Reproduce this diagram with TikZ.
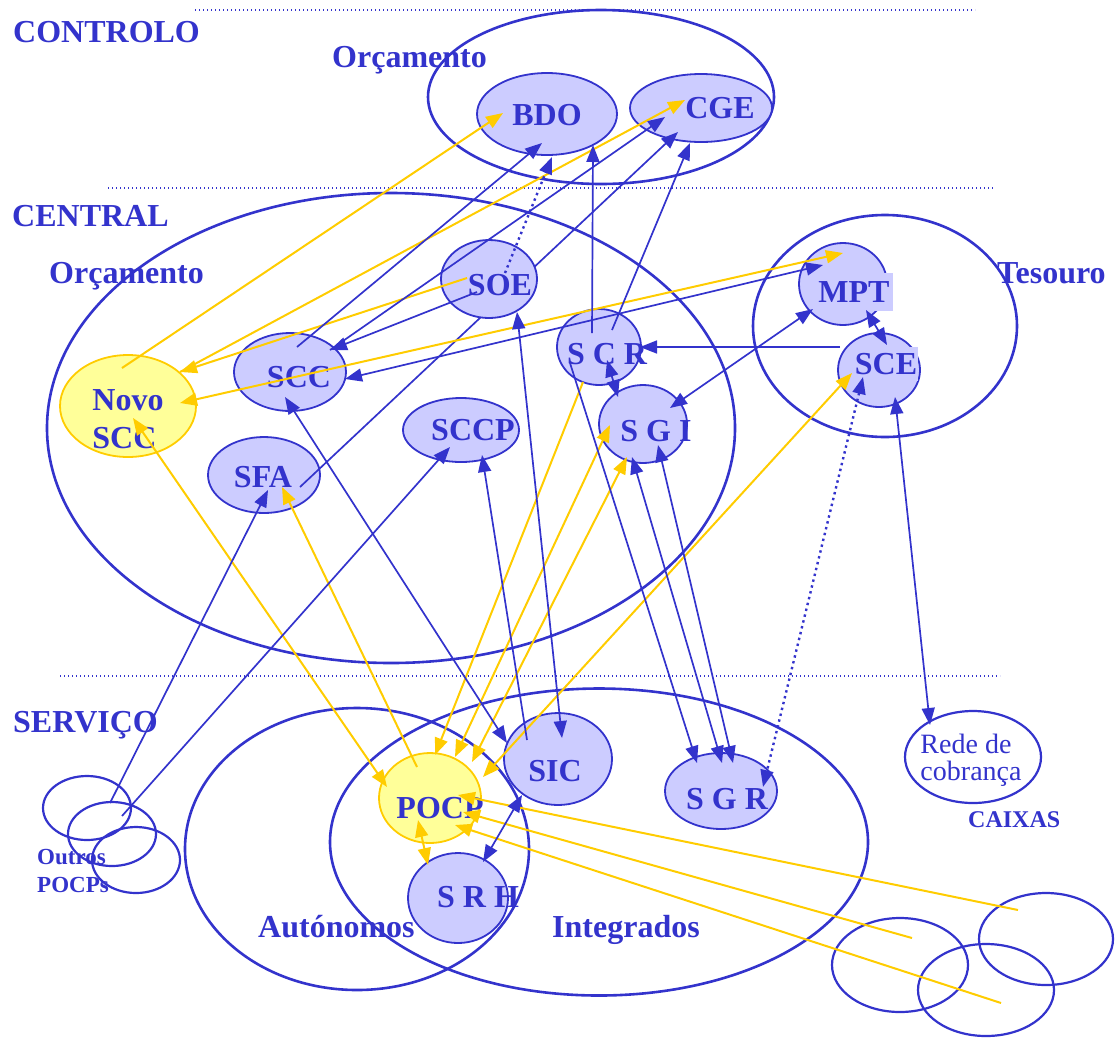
\documentclass[tikz,border=0pt]{standalone}
\usepackage{fontspec}
\setmainfont{Liberation Serif}
\usepackage{xcolor}
\usetikzlibrary{shapes.geometric,arrows.meta,calc}
\definecolor{ablue}{HTML}{3333CC}
\definecolor{sysfill}{HTML}{CCCCFF}
\definecolor{newfill}{HTML}{FFFF99}
\definecolor{gold}{HTML}{FFCC00}

\begin{document}
\begin{tikzpicture}[x=1pt, y=-1pt,
    >={Triangle[length=17pt,width=13pt]},
    sysnode/.style={ellipse, draw=ablue, line width=1.8pt, fill=sysfill, inner sep=0pt},
    newnode/.style={ellipse, draw=gold, line width=1.8pt, fill=newfill, inner sep=0pt},
    zoneellipse/.style={ellipse, draw=ablue, line width=2.6pt, inner sep=0pt},
    outernode/.style={ellipse, draw=ablue, line width=2.2pt, inner sep=0pt},
    systext/.style={text=ablue, inner sep=0pt, font=\fontsize{32}{34}\selectfont\bfseries},
    zonetext/.style={text=ablue, inner sep=0pt, anchor=base west, font=\fontsize{32}{34}\selectfont\bfseries},
    divider/.style={ablue, line width=1.4pt, dash pattern=on 1.4pt off 2.6pt},
    flow/.style={ablue, line width=1.7pt},
    newflow/.style={gold, line width=2pt},
    dotflow/.style={ablue, line width=2.4pt, dash pattern=on 2.4pt off 3.6pt}]
    \useasboundingbox (0,0) rectangle (1115,1037);

    % Levels
    \draw[divider] (195,10) -- (975,10);
    \draw[divider] (108,188) -- (995,188);
    \draw[divider] (60,676) -- (1000,676);
    \node (controlo) [zonetext] at (13,42) {CONTROLO};
    \node (orc-top) [zonetext] at (332,67) {Orçamento};
    \node (central) [zonetext] at (12,226) {CENTRAL};
    \node (orc-central) [zonetext] at (49,283) {Orçamento};
    \node (tesouro) [zonetext] at (997,283) {Tesouro};
    \node (servico) [zonetext] at (13,732) {SERVIÇO};
    \node (autonomos) [zonetext] at (258,937) {Autónomos};
    \node (integrados) [zonetext] at (552,937) {Integrados};
    \node (caixas) [zonetext, font=\fontsize{24}{26}\selectfont\bfseries] at (968,827) {CAIXAS};
    \node (outros) [text=ablue, align=left, inner sep=0pt, font=\fontsize{23}{28}\selectfont\bfseries] at (73,871) {Outros\\POCPs};

    % Zones
    \node (z-controlo) [zoneellipse, minimum width=346, minimum height=174] at (601,97) {};
    \node (z-central) [zoneellipse, minimum width=688, minimum height=470] at (391,428) {};
    \node (z-tesouro) [zoneellipse, minimum width=264, minimum height=222] at (885,326) {};
    \node (z-auto) [zoneellipse, minimum width=344, minimum height=282] at (357,849) {};
    \node (z-integ) [zoneellipse, minimum width=538, minimum height=307] at (599,842) {};

    % Outer systems
    \node (o1) [outernode, minimum width=88, minimum height=64] at (87,808) {};
    \node (o2) [outernode, minimum width=88, minimum height=64] at (112,834) {};
    \node (o3) [outernode, minimum width=88, minimum height=66] at (136,860) {};
    \node (c1) [outernode, minimum width=136, minimum height=94] at (900,965) {};
    \node (c2) [outernode, minimum width=136, minimum height=92] at (986,990) {};
    \node (c3) [outernode, minimum width=134, minimum height=92] at (1046,939) {};
    \node (rede) [outernode, minimum width=136, minimum height=92] at (973,757) {};
    \node (rede-t) [text=ablue, align=left, inner sep=0pt, font=\fontsize{28}{27}\selectfont] at (971,760) {Rede de\\cobrança};

    % Systems
    \node (bdo) [sysnode, minimum width=140, minimum height=82] at (547,114) {};
    \node (cge) [sysnode, minimum width=142, minimum height=68] at (701,108) {};
    \node (scc) [sysnode, minimum width=112, minimum height=78] at (290,372) {};
    \node (scr) [sysnode, minimum width=84, minimum height=76] at (599,347) {};
    \node (sgi) [sysnode, minimum width=88, minimum height=78] at (643,424) {};
    \node (sccp) [sysnode, minimum width=116, minimum height=64] at (461,430) {};
    \node (sfa) [sysnode, minimum width=112, minimum height=76] at (264,475) {};
    \node (mpt) [sysnode, minimum width=88, minimum height=82] at (843,284) {};
    \node (sce) [sysnode, minimum width=82, minimum height=74] at (879,370) {};
    \node (sic) [sysnode, minimum width=108, minimum height=92] at (558,759) {};
    \node (srh) [sysnode, minimum width=100, minimum height=90] at (458,898) {};
    \node (sgr) [sysnode, minimum width=112, minimum height=76] at (721,791) {};
    \node (novo) [newnode, minimum width=136, minimum height=102] at (128,406) {};
    \node (pocp) [newnode, minimum width=102, minimum height=90] at (430,798) {};
    % this one runs under SOE
    \draw[flow, ->] ($(sfa)+(36,12)$) -- ($(cge)+(-23,24)$);
    \node (soe) [sysnode, minimum width=96, minimum height=78] at (489,279) {};

    % Labels
    \node (bdo-t) [systext] at (547,115) {BDO};
    \node (cge-t) [systext] at (720,108) {CGE};
    \node (soe-t) [systext] at (500,285) {SOE};
    \node (scc-t) [systext] at (299,377) {SCC};
    \node (scr-t) [systext] at (607,354) {S C R};
    \node (sgi-t) [systext] at (656,431) {S G I};
    \node (sccp-t) [systext] at (473,430) {SCCP};
    \node (sfa-t) [systext] at (263,477) {SFA};
    \node (mpt-t) [systext, fill=sysfill, inner xsep=3pt, inner ysep=9pt] at (854,292) {MPT};
    \node (sce-t) [systext, fill=sysfill, inner xsep=1pt, inner ysep=6pt] at (886,364) {SCE};
    \node (sic-t) [systext] at (555,771) {SIC};
    \node (sgr-t) [systext] at (727,799) {S G R};
    \node (srh-t) [systext] at (478,897) {S R H};
    \node (pocp-t) [systext] at (440,808) {POCP};
    \node (novo-t) [systext, align=left, font=\fontsize{32}{38}\selectfont\bfseries] at (128,419) {Novo\\SCC};

    % Yellow arrows
    \draw[newflow, ->] ($(novo)+(-6,-38)$) -- ($(bdo)+(-44,-1)$);
    \draw[newflow, ->] ($(soe)+(-22,-1)$) -- ($(novo)+(52,-34)$);
    \draw[newflow, ->] ($(novo)+(52,-34)$) -- ($(cge)+(-16,-8)$);
    \draw[newflow, <->] ($(novo)+(52,-3)$) -- ($(mpt)+(0,-31)$);
    \draw[newflow, <->] ($(novo)+(5,12)$) -- ($(pocp)+(-43,-11)$);
    \draw[newflow, ->] ($(pocp)+(-13,-31)$) -- ($(sfa)+(18,12)$);
    \draw[newflow, ->] ($(scr)+(-16,35)$) -- ($(pocp)+(5,-43)$);
    \draw[newflow, <->] ($(sgi)+(-33,1)$) -- ($(pocp)+(25,-41)$);
    \draw[newflow, <->] ($(sgi)+(-16,33)$) -- ($(pocp)+(42,-36)$);
    \draw[newflow, <->] ($(sce)+(-27,3)$) -- ($(pocp)+(53,-21)$);
    \draw[newflow, <->] ($(pocp)+(-12,22)$) -- ($(srh)+(-30,-33)$);
    \draw[newflow, ->] ($(c3)+(-28,-29)$) -- ($(pocp)+(28,-3)$);
    \draw[newflow, ->] ($(c1)+(12,-27)$) -- ($(pocp)+(33,14)$);
    \draw[newflow, ->] ($(c2)+(15,13)$) -- ($(pocp)+(25,27)$);

    % Blue arrows
    \draw[flow, ->] ($(scc)+(7,-25)$) -- ($(bdo)+(-5,29)$);
    \draw[dotflow, ->] ($(soe)+(16,-6)$) -- ($(bdo)+(5,43)$);
    \draw[flow, ->] ($(scr)+(-7,-14)$) -- ($(bdo)+(46,31)$);
    \draw[flow, ->] ($(scc)+(40,-22)$) -- ($(cge)+(-36,9)$);
    \draw[flow, ->] ($(scr)+(13,-17)$) -- ($(cge)+(-11,35)$);
    \draw[flow, ->] ($(soe)+(-12,13)$) -- ($(scc)+(40,-22)$);
    \draw[flow, <->] ($(scc)+(55,7)$) -- ($(mpt)+(-20,-19)$);
    \draw[flow, ->] ($(sce)+(-39,-23)$) -- ($(scr)+(41,0)$);
    \draw[flow, <->] ($(sgi)+(27,-16)$) -- ($(mpt)+(-30,25)$);
    \draw[flow, <->] ($(mpt)+(23,26)$) -- ($(sce)+(8,-25)$);
    \draw[flow, <->] ($(scr)+(8,13)$) -- ($(sgi)+(-25,-27)$);
    \draw[flow, <->] ($(sce)+(16,27)$) -- ($(rede)+(-43,-32)$);
    \draw[dotflow, <->] ($(sce)+(-16,7)$) -- ($(sgr)+(42,-4)$);
    \draw[flow, ->] ($(scr)+(-29,16)$) -- ($(sgr)+(-24,-28)$);
    \draw[flow, <->] ($(sgi)+(-11,33)$) -- ($(sgr)+(1,-28)$);
    \draw[flow, <->] ($(sgi)+(15,21)$) -- ($(sgr)+(12,-28)$);
    \draw[flow, <->] ($(soe)+(28,33)$) -- ($(sic)+(4,-21)$);
    \draw[flow, ->] ($(sic)+(-31,-19)$) -- ($(sccp)+(21,25)$);
    \draw[flow, <->] ($(scc)+(-5,25)$) -- ($(sic)+(-51,-16)$);
    \draw[flow, ->] ($(o2)+(-2,-31)$) -- ($(sfa)+(4,15)$);
    \draw[flow, ->] ($(o2)+(10,-18)$) -- ($(sccp)+(-11,17)$);
    \draw[flow, <->] ($(sic)+(-36,36)$) -- ($(srh)+(25,-36)$);
\end{tikzpicture}
\end{document}
